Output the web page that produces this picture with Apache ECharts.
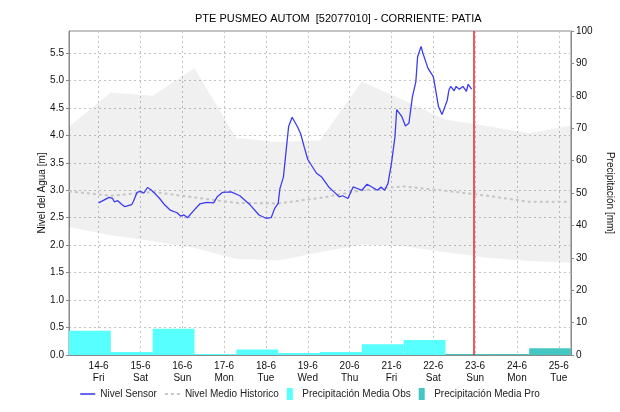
<!DOCTYPE html>
<html lang="es">
<head>
    <meta charset="UTF-8">
    <title>PTE PUSMEO AUTOM - Nivel</title>
    <style>
        html, body {
            margin: 0;
            background: #fff;
        }

        #chart {
            width: 620px;
            height: 412px;
        }
    </style>
</head>
<body>
    <div id="chart"></div>

    <script src="https://cdn.jsdelivr.net/npm/echarts@6/dist/echarts.min.js"></script>
    <script>

        // nombres de los días para las etiquetas del eje x
        var dayNames = ['Sun', 'Mon', 'Tue', 'Wed', 'Thu', 'Fri', 'Sat'];

        // nivel del sensor [m]
        var sensorTimes = [
            '2024-06-14 00:00', '2024-06-14 03:00', '2024-06-14 06:00', '2024-06-14 08:00', '2024-06-14 09:00',
            '2024-06-14 11:00', '2024-06-14 13:00', '2024-06-14 15:00', '2024-06-14 17:00', '2024-06-14 19:00',
            '2024-06-14 20:00', '2024-06-14 22:00', '2024-06-15 00:00', '2024-06-15 02:00', '2024-06-15 04:00',
            '2024-06-15 06:00', '2024-06-15 08:00', '2024-06-15 11:00', '2024-06-15 14:00', '2024-06-15 17:00',
            '2024-06-15 21:00', '2024-06-15 23:00', '2024-06-16 01:00', '2024-06-16 03:00', '2024-06-16 06:00',
            '2024-06-16 10:00', '2024-06-16 14:00', '2024-06-16 18:00', '2024-06-16 20:00', '2024-06-16 23:00',
            '2024-06-17 04:00', '2024-06-17 09:00', '2024-06-17 15:00', '2024-06-17 20:00', '2024-06-18 00:00',
            '2024-06-18 03:00', '2024-06-18 05:00', '2024-06-18 07:00', '2024-06-18 08:00', '2024-06-18 10:00',
            '2024-06-18 13:00', '2024-06-18 15:00', '2024-06-18 18:00', '2024-06-18 20:00', '2024-06-18 22:00',
            '2024-06-19 00:00', '2024-06-19 05:00', '2024-06-19 08:00', '2024-06-19 12:00', '2024-06-19 15:00',
            '2024-06-19 18:00', '2024-06-19 20:00', '2024-06-19 23:00', '2024-06-20 02:00', '2024-06-20 07:00',
            '2024-06-20 10:00', '2024-06-20 16:00', '2024-06-20 18:00', '2024-06-20 20:00', '2024-06-20 22:00',
            '2024-06-21 00:00', '2024-06-21 02:00', '2024-06-21 03:00', '2024-06-21 06:00', '2024-06-21 08:00',
            '2024-06-21 10:00', '2024-06-21 12:00', '2024-06-21 14:00', '2024-06-21 15:00', '2024-06-21 17:00',
            '2024-06-21 18:00', '2024-06-21 20:00', '2024-06-21 21:00', '2024-06-21 23:00', '2024-06-22 00:00',
            '2024-06-22 01:00', '2024-06-22 03:00', '2024-06-22 05:00', '2024-06-22 07:00', '2024-06-22 08:00',
            '2024-06-22 09:00', '2024-06-22 10:00', '2024-06-22 12:00', '2024-06-22 13:00', '2024-06-22 15:00',
            '2024-06-22 17:00', '2024-06-22 19:00', '2024-06-22 20:00', '2024-06-22 22:00'
        ];
        var sensorValues = [
            2.77, 2.82, 2.87, 2.85, 2.79,
            2.81, 2.75, 2.70, 2.72, 2.74,
            2.80, 2.96, 2.98, 2.95, 3.05,
            3.01, 2.95, 2.85, 2.73, 2.64,
            2.59, 2.53, 2.55, 2.50, 2.61,
            2.75, 2.78, 2.77, 2.88, 2.96,
            2.97, 2.90, 2.73, 2.55, 2.49,
            2.50, 2.67, 2.76, 3.03, 3.24,
            4.16, 4.33, 4.16, 4.02, 3.78,
            3.56, 3.31, 3.24, 3.06, 2.97,
            2.88, 2.90, 2.85, 3.06, 3.00,
            3.11, 3.00, 3.06, 3.00, 3.12,
            3.49, 3.97, 4.47, 4.34, 4.17,
            4.22, 4.70, 4.98, 5.43, 5.62,
            5.50, 5.31, 5.22, 5.12, 5.07,
            4.89, 4.52, 4.38, 4.55, 4.64,
            4.83, 4.89, 4.81, 4.89, 4.84,
            4.89, 4.80, 4.93, 4.84
        ];

        // datos históricos diarios (07:00)
        var histTimes = [
            '2024-06-13 07:00', '2024-06-14 07:00', '2024-06-15 07:00', '2024-06-16 07:00', '2024-06-17 07:00',
            '2024-06-18 07:00', '2024-06-19 07:00', '2024-06-20 07:00', '2024-06-21 07:00', '2024-06-22 07:00',
            '2024-06-23 07:00', '2024-06-24 07:00', '2024-06-25 07:00'
        ];
        var histMedio = [2.98, 2.90, 2.97, 2.87, 2.77, 2.76, 2.86, 3.00, 3.07, 2.99, 2.90, 2.79, 2.79];
        var histMax = [4.16, 4.78, 4.72, 5.22, 3.95, 3.88, 3.91, 4.98, 4.64, 4.29, 4.17, 4.04, 4.18];
        var histMin = [2.33, 2.18, 2.07, 1.95, 1.75, 1.72, 1.87, 2.01, 1.98, 1.87, 1.77, 1.71, 1.68];

        // precipitación [mm], un valor por día de 07:00 a 07:00
        var precObsDays = [
            '2024-06-13 07:00', '2024-06-14 07:00', '2024-06-15 07:00', '2024-06-16 07:00', '2024-06-17 07:00',
            '2024-06-18 07:00', '2024-06-19 07:00', '2024-06-20 07:00', '2024-06-21 07:00'
        ];
        var precObsValues = [7.5, 0.9, 8.1, 0.3, 1.7, 0.6, 0.9, 3.3, 4.6];
        var precProDays = ['2024-06-22 07:00', '2024-06-23 07:00', '2024-06-24 07:00'];
        var precProValues = [0.3, 0.3, 2.1];

        var ahora = '2024-06-22 23:00';

        var DAY = 24 * 3600 * 1000;

        function ts(s) {
            var p = s.split(/[- :]/);
            return new Date(+p[0], +p[1] - 1, +p[2], +p[3], +p[4]).getTime();
        }

        function pairs(times, values) {
            return times.map(function(t, i) {
                return [ts(t), values[i]];
            });
        }

        function dayBars(days, values) {
            return days.map(function(d, i) {
                var start = ts(d);
                return [start, start + DAY, values[i]];
            });
        }

        function renderBar(params, api) {
            var top = api.coord([api.value(0), api.value(2)]);
            var bottom = api.coord([api.value(1), 0]);
            return {
                type: 'rect',
                shape: {
                    x: top[0],
                    y: top[1],
                    width: bottom[0] - top[0],
                    height: bottom[1] - top[1]
                },
                style: api.style()
            };
        }

        var font = 'Liberation Sans, Arial, sans-serif';
        var gridLine = { show: true, lineStyle: { color: '#c4c4c4', type: [2, 3], width: 1 } };

        // iconos de la leyenda (sin el círculo por defecto de las líneas)
        var iconLine = 'path://M0,0h15v1.4h-15z';
        var iconDots = 'path://M0,0h3v2h-3zM6,0h3v2h-3zM12,0h3v2h-3z';
        var iconBox = 'path://M0,0h6v12h-6z';

        var myChart = echarts.init(document.getElementById('chart'), null, { renderer: 'canvas' });

        var option = {
            animation: false,
            textStyle: { fontFamily: font },
            title: {
                text: 'PTE PUSMEO AUTOM  [52077010] - CORRIENTE: PATIA',
                left: 190,
                top: 8,
                textStyle: { fontSize: 11, fontWeight: 'normal', color: '#000', fontFamily: font }
            },
            grid: {
                left: 69,
                right: 49,
                top: 31,
                bottom: 57,
                outerBoundsMode: 'none',
                show: true,
                borderColor: '#8a8a8a',
                borderWidth: 1,
                backgroundColor: 'transparent'
            },
            legend: {
                bottom: 7,
                left: 'center',
                itemGap: 8,
                itemWidth: 15,
                itemHeight: 12,
                textStyle: { fontSize: 10, color: '#222', fontFamily: font },
                data: [
                    { name: 'Nivel Sensor', icon: iconLine },
                    { name: 'Nivel Medio Historico', icon: iconDots },
                    { name: 'Precipitación Media Obs', icon: iconBox },
                    { name: 'Precipitación Media Pro', icon: iconBox }
                ]
            },
            xAxis: {
                type: 'time',
                min: ts(histTimes[0]),
                max: ts(histTimes[histTimes.length - 1]),
                minInterval: DAY,
                maxInterval: DAY,
                axisLine: { lineStyle: { color: '#8a8a8a' } },
                axisTick: { show: false },
                axisLabel: {
                    color: '#111',
                    fontSize: 10,
                    lineHeight: 12,
                    margin: 5,
                    showMinLabel: false,
                    showMaxLabel: false,
                    hideOverlap: false,
                    formatter: function(value) {
                        var d = new Date(value);
                        return d.getDate() + '-' + (d.getMonth() + 1) + '\n' + dayNames[d.getDay()];
                    }
                },
                splitLine: gridLine
            },
            yAxis: [{
                type: 'value',
                min: 0,
                max: 5.9,
                interval: 0.5,
                name: 'Nivel del Agua [m]',
                nameLocation: 'middle',
                nameGap: 22,
                nameMoveOverlap: false,
                nameTextStyle: { fontSize: 10, color: '#111' },
                axisLine: { show: true, lineStyle: { color: '#8a8a8a' } },
                axisTick: { show: true, length: 3, lineStyle: { color: '#8a8a8a' } },
                axisLabel: {
                    color: '#111',
                    fontSize: 10,
                    margin: 5,
                    showMaxLabel: false,
                    formatter: function(v) { return v.toFixed(1); }
                },
                splitLine: gridLine
            }, {
                type: 'value',
                min: 0,
                max: 100,
                interval: 10,
                name: 'Precipitación [mm]',
                nameLocation: 'middle',
                nameRotate: -90,
                nameGap: 34,
                nameMoveOverlap: false,
                nameTextStyle: { fontSize: 10, color: '#111' },
                axisLine: { show: true, lineStyle: { color: '#8a8a8a' } },
                axisTick: { show: true, length: 3, lineStyle: { color: '#8a8a8a' } },
                axisLabel: { color: '#111', fontSize: 10, margin: 5 },
                splitLine: { show: false }
            }],
            series: [{
                // banda histórica: mínimo (base) + diferencia apilada
                name: 'banda-min',
                type: 'line',
                stack: 'banda',
                symbol: 'none',
                silent: true,
                lineStyle: { opacity: 0 },
                data: pairs(histTimes, histMin),
                z: 1
            }, {
                name: 'banda-max',
                type: 'line',
                stack: 'banda',
                symbol: 'none',
                silent: true,
                lineStyle: { opacity: 0 },
                areaStyle: { color: 'rgba(0,0,0,0.06)', opacity: 1 },
                data: pairs(histTimes, histMax.map(function(v, i) { return +(v - histMin[i]).toFixed(2); })),
                z: 1
            }, {
                name: 'Precipitación Media Obs',
                type: 'custom',
                yAxisIndex: 1,
                renderItem: renderBar,
                itemStyle: { color: '#57ffff' },
                encode: { x: [0, 1], y: 2 },
                data: dayBars(precObsDays, precObsValues),
                z: 2
            }, {
                name: 'Precipitación Media Pro',
                type: 'custom',
                yAxisIndex: 1,
                renderItem: renderBar,
                itemStyle: { color: '#44c6c2' },
                encode: { x: [0, 1], y: 2 },
                data: dayBars(precProDays, precProValues),
                z: 2
            }, {
                name: 'Nivel Medio Historico',
                type: 'line',
                symbol: 'none',
                lineStyle: { color: '#c6c6c6', width: 2, type: [3, 3] },
                itemStyle: { color: '#c6c6c6' },
                data: pairs(histTimes, histMedio),
                z: 3
            }, {
                name: 'Nivel Sensor',
                type: 'line',
                symbol: 'none',
                lineStyle: { color: '#3c3cf2', width: 1.3 },
                itemStyle: { color: '#2424e8' },
                data: pairs(sensorTimes, sensorValues),
                markLine: {
                    silent: true,
                    symbol: 'none',
                    label: { show: false },
                    lineStyle: { color: '#e3262c', width: 1.5, type: 'solid' },
                    data: [{ xAxis: ts(ahora) }]
                },
                z: 4
            }]
        };

        myChart.setOption(option);

    </script>
</body>
</html>
